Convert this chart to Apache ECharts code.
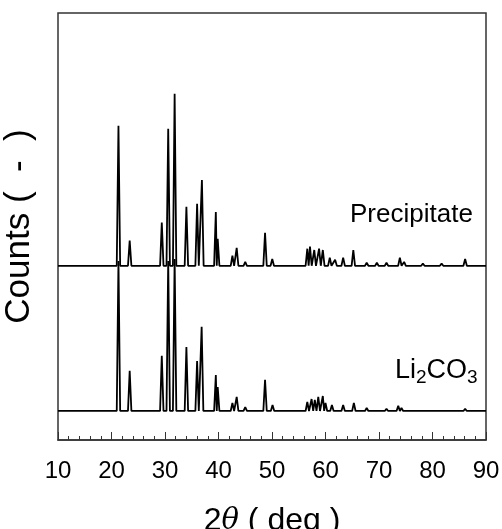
<!DOCTYPE html>
<html>
<head>
<meta charset="utf-8">
<script src="https://cdn.jsdelivr.net/npm/echarts@6/dist/echarts.min.js"></script>
<style>
  html, body { margin: 0; padding: 0; background: #fff; }
  #chart { width: 502px; height: 529px; }
</style>
</head>
<body>
<div id="chart"></div>
<script>
// Diffraction peaks: 2θ position (deg) and intensity above each pattern's baseline (a.u.)
const precipPos = [21.3, 23.4, 29.4, 30.6, 31.8, 34.0, 36.0, 36.9, 39.5, 39.85, 42.6, 43.4, 45.0,
  48.7, 50.05, 56.6, 57.1, 57.9, 58.8, 59.5, 60.8, 61.8, 63.3, 65.2, 67.7, 69.6, 71.4, 73.9, 74.7,
  78.2, 81.7, 86.1];
const precipInt = [328, 59, 101, 321, 403, 138, 145, 201, 126, 63, 24, 42, 9,
  77, 16, 40, 45, 37, 40, 37, 19, 14, 19, 37, 7, 7, 7, 19, 9,
  5, 5, 16];

const liPos = [21.3, 23.4, 29.4, 30.6, 31.8, 34.0, 36.0, 36.85, 39.5, 39.85, 42.6, 43.4, 45.0,
  48.7, 50.1, 56.6, 57.4, 58.0, 58.65, 59.5, 60.0, 61.2, 63.3, 65.3, 67.7, 71.4, 73.6, 74.2, 86.1];
const liInt = [351, 94, 129, 351, 356, 150, 117, 197, 84, 56, 19, 33, 9,
  73, 14, 21, 28, 26, 33, 35, 19, 14, 14, 19, 7, 5, 12, 7, 5];

// Vertical offsets of the two stacked patterns (a.u.)
const precipBase = 408;
const liBase = 68;

const xTicks = [10, 20, 30, 40, 50, 60, 70, 80, 90];

// Turn a list of peaks into a polyline: baseline, apex, baseline for each reflection
function peakProfile(pos, inten, base) {
  const pts = [[xTicks[0], base]];
  for (let i = 0; i < pos.length; i++) {
    const prevGap = i > 0 ? pos[i] - pos[i - 1] : 1;
    const nextGap = i < pos.length - 1 ? pos[i + 1] - pos[i] : 1;
    const wl = Math.min(0.32, prevGap / 2);
    const wr = Math.min(0.32, nextGap / 2);
    const left = pos[i] - wl;
    if (pts[pts.length - 1][0] < left) pts.push([left, base]);
    pts.push([pos[i], base + inten[i]]);
    pts.push([pos[i] + wr, base]);
  }
  pts.push([xTicks[xTicks.length - 1], base]);
  return pts;
}

const chart = echarts.init(document.getElementById('chart'), null, { renderer: 'canvas' });

const FONT = 'Liberation Sans, Arial, sans-serif';

chart.setOption({
  animation: false,
  backgroundColor: '#fff',
  grid: {
    left: 58, right: 16, top: 13, bottom: 89,
    containLabel: false,
    outerBoundsMode: 'none',
    show: true, borderColor: '#333', borderWidth: 1.5, backgroundColor: 'transparent'
  },
  xAxis: {
    type: 'value',
    min: xTicks[0],
    max: xTicks[xTicks.length - 1],
    interval: 10,
    axisLine: { show: true, onZero: false, lineStyle: { color: '#333', width: 1.5 } },
    axisTick: { show: true, inside: true, length: 8, lineStyle: { color: '#333', width: 1 } },
    minorTick: { show: true, splitNumber: 5, length: 4, lineStyle: { color: '#333', width: 1 } },
    splitLine: { show: false },
    axisLabel: { fontFamily: FONT, fontSize: 24, color: '#000', margin: 19 },
    name: '{n|2}{t|θ}{n| ( deg )}',
    nameLocation: 'middle',
    nameGap: 65,
    nameTextStyle: {
      rich: {
        n: { fontFamily: FONT, fontSize: 32, color: '#000' },
        t: { fontFamily: 'DejaVu Serif, serif', fontStyle: 'italic', fontSize: 29, color: '#000' }
      }
    }
  },
  yAxis: {
    type: 'value',
    min: 0,
    max: 1000,
    axisLine: { show: false },
    axisTick: { show: false },
    axisLabel: { show: false },
    splitLine: { show: false },
    name: 'Counts (  -  )',
    nameLocation: 'middle',
    nameGap: 21,
    nameTextStyle: { fontFamily: FONT, fontSize: 35, color: '#000' }
  },
  graphic: [
    {
      type: 'text', left: 350, top: 202,
      style: { text: 'Precipitate', font: '26px ' + FONT, fill: '#000' }
    },
    {
      type: 'text', left: 395, top: 357,
      style: {
        text: '{b|Li}{s|2}{b|CO}{s|3}',
        rich: {
          b: { fontFamily: FONT, fontSize: 27, fill: '#000' },
          s: { fontFamily: FONT, fontSize: 19, fill: '#000', verticalAlign: 'bottom', padding: [14, 0, 0, 0] }
        }
      }
    }
  ],
  series: [
    {
      name: 'Li2CO3',
      type: 'line',
      data: peakProfile(liPos, liInt, liBase),
      showSymbol: false,
      lineStyle: { color: '#000', width: 1.8 },
      z: 2
    },
    {
      name: 'Precipitate',
      type: 'line',
      data: peakProfile(precipPos, precipInt, precipBase),
      showSymbol: false,
      lineStyle: { color: '#000', width: 1.8 },
      z: 3
    }
  ]
});
</script>
</body>
</html>
